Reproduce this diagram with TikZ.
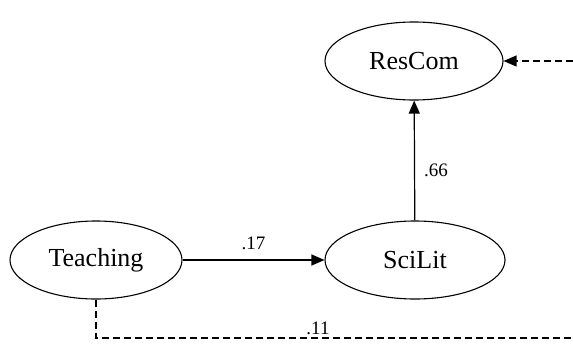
\documentclass[tikz,border=0pt]{standalone}
\usepackage{fontspec}
\setmainfont{Liberation Serif}
\usetikzlibrary{shapes.geometric,arrows.meta}
\begin{document}
\begin{tikzpicture}[x=1pt,y=-1pt,
  latent/.style={ellipse, draw, line width=1.1pt, minimum width=178pt,
    minimum height=78pt, inner sep=0pt, font=\fontsize{26}{30}\selectfont},
  tip/.style={-{Triangle[length=13pt,width=11pt]}},
  pathline/.style={line width=1.2pt, tip},
  covline/.style={line width=1.2pt, dash pattern=on 7pt off 4pt},
  coef/.style={font=\fontsize{19}{22}\selectfont, inner sep=1pt}]
\useasboundingbox (0,0) rectangle (573,343);
% latent variables
\node[latent] (rescom) at (414,61) {ResCom};
\node[latent, minimum width=180pt] (scilit) at (415,260) {SciLit};
\node[latent, minimum width=172pt] (teach) at (96,260) {Teaching};
% free ends of the dashed paths
\coordinate (eastin) at (573,61);
\coordinate (corner) at (96,338);
\coordinate (eastout) at (573,338);
% structural paths
\draw[pathline] (teach) -- (scilit) node[coef, midway, above=9pt] {.17};
\draw[pathline] (scilit) -- (rescom) node[coef, pos=0.42, right=8pt] {.66};
% dashed paths
\draw[covline, tip] (eastin) -- (rescom.east);
\draw[covline] (teach.south) -- (corner) -- (eastout);
\node[coef, anchor=south] (c11) at (318,336) {.11};
\end{tikzpicture}
\end{document}
